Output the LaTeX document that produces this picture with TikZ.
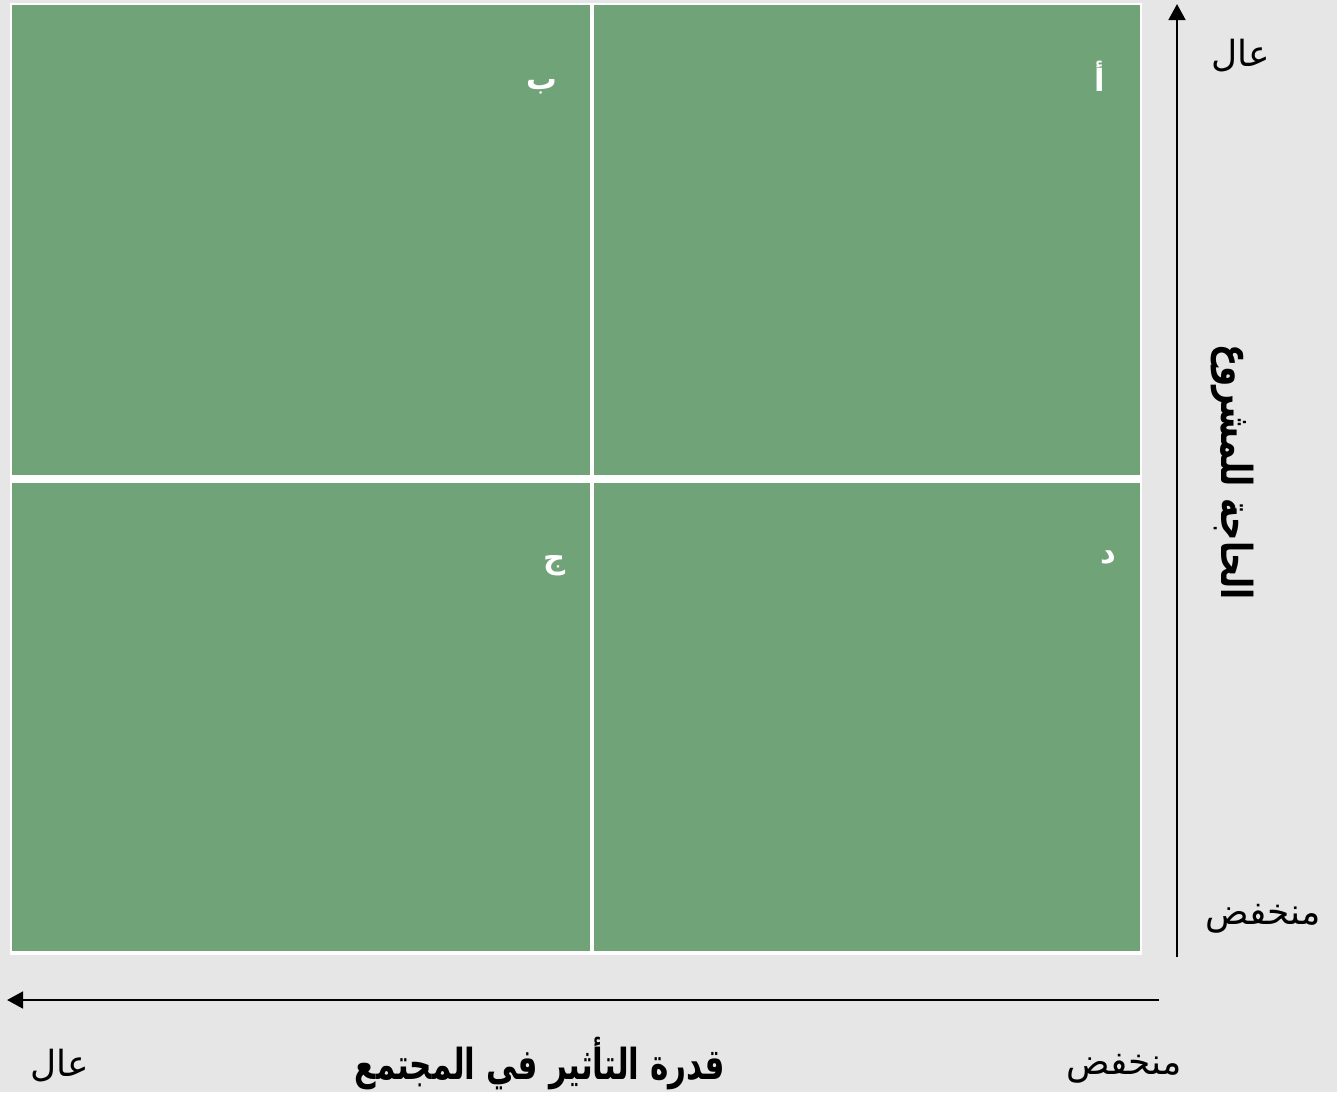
\documentclass[tikz,border=0pt]{standalone}
\usepackage{fontspec}
\usetikzlibrary{arrows.meta}
\TeXXeTstate=1
\newfontfamily\arabicfont[Script=Arabic]{DejaVu Sans}
\definecolor{bggray}{HTML}{E7E6E6}
\definecolor{quadgreen}{HTML}{71A378}
\tikzset{
  quad/.style={fill=quadgreen, draw=none},
  axis/.style={line width=2pt, -{Triangle[length=12pt,width=12.5pt]}},
  lbl/.style={inner sep=0pt, font=\arabicfont\fontsize{27}{30}\selectfont},
  ttl/.style={inner sep=0pt, font=\arabicfont\bfseries\fontsize{32}{36}\selectfont},
  qlet/.style={inner sep=0pt, text=white, font=\arabicfont\bfseries\fontsize{23}{26}\selectfont}
}
\begin{document}
\begin{tikzpicture}[x=0.75pt,y=-0.75pt]
\fill[bggray] (0,0) rectangle (1337,1092);
\useasboundingbox (0,0) rectangle (1337,1092);
% white frame
\fill[white] (10,3) rectangle (1142,955);
% quadrants
\path[quad] (12,5) rectangle (590,475);
\path[quad] (593.5,5) rectangle (1139.5,475);
\path[quad] (12,482.5) rectangle (590,951);
\path[quad] (593.5,482.5) rectangle (1139.5,951);
% quadrant letters
\node[qlet] (qa) at (1100,76) {\beginR أ\endR};
\node[qlet] (qb) at (542,87) {\beginR ب\endR};
\node[qlet] (qj) at (555,566) {\beginR ج\endR};
\node[qlet] (qd) at (1108,558) {\beginR د\endR};
% axes
\coordinate (vbot) at (1177,957);
\coordinate (vtop) at (1177,4);
\coordinate (hright) at (1159,1000);
\coordinate (hleft) at (7,1000);
\draw[axis] (vbot) -- (vtop);
\draw[axis] (hright) -- (hleft);
% axis labels
\node[lbl] (vhigh) at (1241,56) {\beginR عال\endR};
\node[lbl] (vlow) at (1263,919) {\beginR منخفض\endR};
\node[lbl] (hlow) at (1124,1069) {\beginR منخفض\endR};
\node[lbl] (hhigh) at (60,1066) {\beginR عال\endR};
\node[ttl] (htitle) at (540,1064) {\scalebox{0.73}[1]{\beginR قدرة التأثير في المجتمع\endR}};
\node[ttl, rotate=-90] (vtitle) at (1232,472) {\scalebox{0.76}[1]{\beginR الحاجة للمشروع\endR}};
\end{tikzpicture}
\end{document}
